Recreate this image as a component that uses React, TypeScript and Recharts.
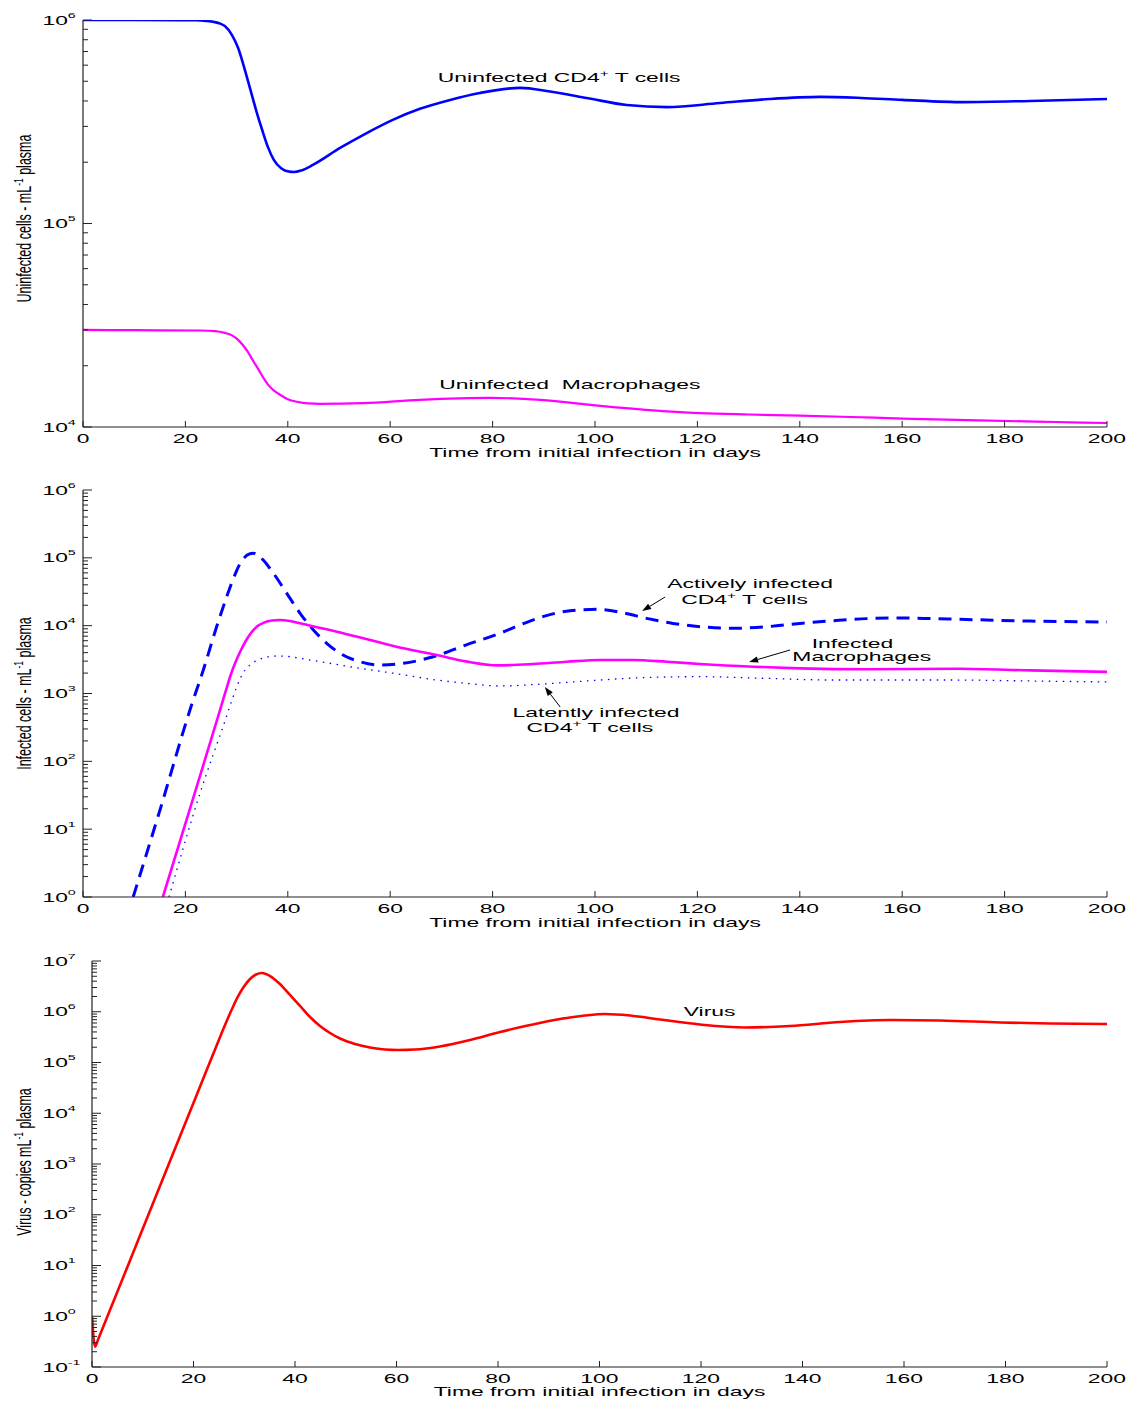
import React from 'react';
import { LineChart, Line, XAxis, YAxis, ReferenceDot, ReferenceLine } from 'recharts';

// ---------- data (t = days, v = value per mL) ----------
const dayTicks = [0, 20, 40, 60, 80, 100, 120, 140, 160, 180, 200];
const panel1Exponents = [4, 5, 6];
const panel2Exponents = [0, 1, 2, 3, 4, 5, 6];
const panel3Exponents = [-1, 0, 1, 2, 3, 4, 5, 6, 7];

const uninfectedCD4: [number, number][] = [
  [0, 1.0e6], [10, 1.0e6], [19, 9.99e5], [22, 9.97e5], [24, 9.9e5], [25.6, 9.78e5],
  [26.8, 9.6e5], [27.7, 9.34e5], [29.1, 8.43e5], [30.3, 7.28e5], [31.4, 5.94e5],
  [32.6, 4.64e5], [33.8, 3.61e5], [35.0, 2.88e5], [36.1, 2.38e5], [37.3, 2.05e5],
  [38.7, 1.87e5], [40.2, 1.8e5], [41.2, 1.79e5], [42.6, 1.82e5], [44.9, 1.94e5],
  [50.2, 2.35e5], [55.5, 2.79e5], [60.5, 3.23e5], [65.8, 3.66e5], [71.7, 4.05e5],
  [77.5, 4.38e5], [85.4, 4.64e5], [91.2, 4.45e5], [98.4, 4.14e5], [106.2, 3.82e5],
  [114.1, 3.73e5], [124.4, 3.91e5], [134, 4.09e5], [144, 4.19e5], [152, 4.14e5],
  [160, 4.05e5], [172, 3.95e5], [185, 4.0e5], [200, 4.09e5],
];

const uninfectedMacro: [number, number][] = [
  [0, 3.0e4], [10, 2.99e4], [22.9, 2.98e4], [25.8, 2.96e4], [27.7, 2.9e4], [29.1, 2.82e4],
  [30.3, 2.68e4], [31.25, 2.52e4], [32.2, 2.34e4], [33.2, 2.12e4], [34.2, 1.93e4],
  [35.2, 1.75e4], [36.1, 1.62e4], [37.3, 1.51e4], [38.5, 1.44e4], [40.0, 1.37e4],
  [41.8, 1.33e4], [43.9, 1.305e4], [46.3, 1.3e4], [54.7, 1.31e4], [65.8, 1.36e4],
  [79.5, 1.39e4], [89.3, 1.36e4], [101, 1.27e4], [110.7, 1.21e4], [120.5, 1.17e4],
  [130, 1.152e4], [140, 1.138e4], [150, 1.12e4], [160, 1.1e4], [175, 1.077e4],
  [190, 1.058e4], [200, 1.046e4],
];

const activelyInfected: [number, number][] = [
  [9.8, 1.0], [15, 18.8], [21.2, 676], [23.5, 2218], [26.1, 9660], [28.07, 26700],
  [29.04, 42600], [30.02, 65000], [30.86, 86800], [31.64, 1.03e5], [32.42, 1.13e5],
  [33.26, 1.17e5], [34.18, 1.09e5], [35.2, 9.29e4], [37.2, 5.92e4], [39.8, 3.0e4],
  [42.4, 1.52e4], [45.0, 8630], [47.6, 5500], [50.2, 3910], [54.1, 2940], [58.0, 2630],
  [62.6, 2790], [68.4, 3480], [75, 5250], [81.4, 7710], [85.3, 1.02e4], [89.8, 1.36e4],
  [95.1, 1.66e4], [100.3, 1.74e4], [105.4, 1.55e4], [110.1, 1.28e4], [115.2, 1.08e4],
  [120.5, 9660], [127, 9140], [133.6, 9660], [140, 1.08e4], [146.5, 1.18e4],
  [153.1, 1.27e4], [159.6, 1.3e4], [166, 1.27e4], [171.3, 1.24e4], [185, 1.17e4],
  [200, 1.13e4],
];

const infectedMacro: [number, number][] = [
  [15.6, 1.0], [21, 21.3], [24, 117], [26.76, 571], [27.93, 1125], [28.91, 1936],
  [29.88, 3010], [30.86, 4380], [31.84, 6040], [32.81, 7800], [33.98, 9720],
  [35.35, 1.11e4], [36.91, 1.19e4], [38.48, 1.21e4], [40.43, 1.17e4], [42.97, 1.06e4],
  [49.6, 8150], [56.1, 6150], [62.6, 4630], [69.1, 3690], [75, 2950], [81, 2600],
  [87.9, 2720], [94.5, 2940], [101, 3120], [107.4, 3120], [114, 2940], [120.5, 2720],
  [130.9, 2480], [140, 2350], [153, 2280], [171, 2320], [185, 2190], [200, 2080],
];

const latentlyInfected: [number, number][] = [
  [16.8, 1.0], [22.5, 28], [28.32, 533], [29.1, 802], [30.02, 1247], [30.86, 1750],
  [31.64, 2220], [32.62, 2630], [33.93, 3065], [35.55, 3395], [37.83, 3575],
  [40.04, 3515], [42.38, 3300], [47.6, 2840], [54.1, 2350], [60.6, 1990], [69.1, 1580],
  [75, 1410], [81.4, 1290], [89.8, 1380], [101, 1580], [110.7, 1730], [120.5, 1770],
  [133.6, 1670], [146.5, 1580], [159.6, 1580], [170, 1580], [185, 1530], [200, 1480],
];

const virus: [number, number][] = [
  [0, 1.0], [0.6, 0.25], [1.2, 0.35], [10, 53], [21.28, 3.33e4], [24.24, 1.8e5],
  [26.21, 5.48e5], [27.59, 1.13e6], [28.77, 2.0e6], [29.95, 3.14e6], [31.13, 4.42e6],
  [32.32, 5.42e6], [33.5, 5.81e6], [35.07, 5.06e6], [37.04, 3.52e6], [39.01, 2.14e6],
  [40.99, 1.3e6], [42.96, 7.88e5], [44.93, 5.24e5], [46.9, 3.81e5], [48.87, 2.97e5],
  [51.82, 2.32e5], [54.78, 1.98e5], [57.73, 1.8e5], [60.3, 1.76e5], [63.65, 1.8e5],
  [68.57, 2.07e5], [74.48, 2.77e5], [80.39, 3.99e5], [86.31, 5.48e5], [92.22, 7.2e5],
  [97.14, 8.44e5], [101.08, 9.04e5], [106.01, 8.44e5], [111.92, 7.03e5], [119.8, 5.61e5],
  [128.67, 4.9e5], [137.54, 5.24e5], [147.39, 6.28e5], [157.24, 6.87e5], [167.09, 6.73e5],
  [178.92, 6.14e5], [188.77, 5.87e5], [200, 5.74e5],
];

type Note = { t: number; v: number; pre: string; sup?: string; post?: string };
type Arrow = { from: [number, number]; to: [number, number] };

const panel1Notes: Note[] = [
  { t: 93.0, v: 4.95e5, pre: 'Uninfected CD4', sup: '+', post: ' T cells' },
  { t: 95.1, v: 1.54e4, pre: 'Uninfected  Macrophages' },
];
const panel2Notes: Note[] = [
  { t: 130.3, v: 3.59e4, pre: 'Actively infected' },
  { t: 129.2, v: 2.08e4, pre: 'CD4', sup: '+', post: ' T cells' },
  { t: 150.3, v: 4690, pre: 'Infected' },
  { t: 152.1, v: 3010, pre: 'Macrophages' },
  { t: 100.2, v: 450, pre: 'Latently infected' },
  { t: 99.0, v: 270, pre: 'CD4', sup: '+', post: ' T cells' },
];
const panel2Arrows: Arrow[] = [
  { from: [113.7, 2.65e4], to: [109.2, 1.64e4] },
  { from: [138.1, 4380], to: [130.1, 2910] },
  { from: [93.2, 632], to: [90.2, 1250] },
];
const panel3Notes: Note[] = [{ t: 121.7, v: 8.24e5, pre: 'Virus' }];

// ---------- styling helpers ----------
const FONT = '"Liberation Sans", Arial, Helvetica, sans-serif';
const SX = 1.82;
const AXIS = '#222222';
const BLUE = '#0000ff';
const MAGENTA = '#ff00ff';
const RED = '#ff0000';

const toPts = (arr: [number, number][]) => arr.map(([t, v]) => ({ t, v }));

function logTicks(exps: number[]) {
  const out: number[] = [];
  exps.forEach((e, i) => {
    out.push(Math.pow(10, e));
    if (i < exps.length - 1) for (let m = 2; m <= 9; m++) out.push(m * Math.pow(10, e));
  });
  return out;
}

const makeYTick = (labelOffset: number) => (props: any) => {
  const { x, y, payload } = props;
  const lg = Math.log10(payload.value);
  const e = Math.round(lg);
  const major = Math.abs(lg - e) < 1e-6;
  return (
    <g>
      <line x1={x} x2={x + (major ? 9 : 5)} y1={y} y2={y} stroke={AXIS} strokeWidth={1} />
      {major && (
        <text
          transform={`translate(${x - labelOffset},${y + 4.5}) scale(1.9,1)`}
          fontFamily={FONT}
          fontSize={12}
          fill="#000"
        >
          10
          <tspan dy={-7} fontSize={7.5}>{String(e)}</tspan>
        </text>
      )}
    </g>
  );
};

const XTick = (props: any) => {
  const { x, y, payload } = props;
  return (
    <g>
      <line x1={x} x2={x} y1={y} y2={y - 6} stroke={AXIS} strokeWidth={1} />
      <text
        transform={`translate(${x},${y + 16}) scale(${SX},1)`}
        textAnchor="middle"
        fontFamily={FONT}
        fontSize={12.6}
        fill="#000"
      >
        {payload.value}
      </text>
    </g>
  );
};

const xLabel = (dy: number) => ({
  content: (p: any) => {
    const vb = p.viewBox || {};
    return (
      <text
        transform={`translate(${vb.x + vb.width / 2},${vb.y + dy}) scale(${SX},1)`}
        textAnchor="middle"
        fontFamily={FONT}
        fontSize={12.6}
        fill="#000"
      >
        Time from initial infection in days
      </text>
    );
  },
});

const yLabel = (pre: string, post: string, shift: number) => ({
  content: (p: any) => {
    const vb = p.viewBox || {};
    const cy = vb.y + vb.height / 2 + shift;
    return (
      <text
        transform={`translate(${vb.x + 31},${cy}) scale(1.6,1) rotate(-90)`}
        textAnchor="middle"
        fontFamily={FONT}
        fontSize={12.5}
        fill="#000"
      >
        {pre}
        <tspan dy={-5} fontSize={8.5}>-1</tspan>
        <tspan dy={5}>{post}</tspan>
      </text>
    );
  },
});

const noteShape = (n: Note) => (p: any) => (
  <text
    transform={`translate(${p.cx},${p.cy}) scale(${SX},1)`}
    textAnchor="middle"
    fontFamily={FONT}
    fontSize={12.6}
    fill="#000"
    style={{ whiteSpace: 'pre' }}
  >
    {n.pre}
    {n.sup && <tspan dy={-5} fontSize={8.5}>{n.sup}</tspan>}
    {n.post && <tspan dy={5}>{n.post}</tspan>}
  </text>
);

const ArrowShape = (p: any) => {
  const { x1, y1, x2, y2 } = p;
  const ang = Math.atan2(y2 - y1, x2 - x1);
  const L = 9;
  const W = 3.2;
  const bx = x2 - L * Math.cos(ang);
  const by = y2 - L * Math.sin(ang);
  const px = -Math.sin(ang) * W;
  const py = Math.cos(ang) * W;
  return (
    <g>
      <line x1={x1} y1={y1} x2={bx} y2={by} stroke="#000" strokeWidth={1} />
      <polygon points={`${x2},${y2} ${bx + px},${by + py} ${bx - px},${by - py}`} fill="#000" />
    </g>
  );
};

const renderNotes = (notes: Note[]) =>
  notes.map((n, i) => (
    <ReferenceDot key={`n${i}`} x={n.t} y={n.v} r={0} ifOverflow="visible" shape={noteShape(n)} />
  ));

const renderArrows = (arrows: Arrow[]) =>
  arrows.map((a, i) => (
    <ReferenceLine
      key={`a${i}`}
      ifOverflow="visible"
      segment={[{ x: a.from[0], y: a.from[1] }, { x: a.to[0], y: a.to[1] }]}
      shape={ArrowShape}
    />
  ));

const axisLine = { stroke: AXIS, strokeWidth: 1.2 };

const commonX = (height: number, labelDy: number) => (
  <XAxis
    type="number"
    dataKey="t"
    domain={[0, 200]}
    ticks={dayTicks}
    interval={0}
    allowDataOverflow
    tick={XTick}
    tickLine={false}
    tickSize={0}
    tickMargin={0}
    height={height}
    axisLine={axisLine}
    label={xLabel(labelDy)}
  />
);

export default function App() {
  return (
    <div style={{ position: 'absolute', left: 0, top: 0, width: 1136, height: 1401, background: '#fff' }}>
      <div style={{ position: 'absolute', left: 0, top: 0 }}>
        <LineChart width={1136} height={470} margin={{ top: 20, right: 29, bottom: 0, left: 0 }}>
          {commonX(43, 30)}
          <YAxis
            type="number"
            dataKey="v"
            scale="log"
            domain={[1e4, 1e6]}
            ticks={logTicks(panel1Exponents)}
            interval={0}
            allowDataOverflow
            tick={makeYTick(40.5)}
            tickLine={false}
            tickSize={0}
            tickMargin={0}
            width={83}
            axisLine={axisLine}
            label={yLabel('Uninfected cells - mL', ' plasma', -5)}
          />
          <Line data={toPts(uninfectedCD4)} dataKey="v" type="monotone" stroke={BLUE} strokeWidth={2.6} dot={false} activeDot={false} isAnimationActive={false} />
          <Line data={toPts(uninfectedMacro)} dataKey="v" type="monotone" stroke={MAGENTA} strokeWidth={2.2} dot={false} activeDot={false} isAnimationActive={false} />
          {renderNotes(panel1Notes)}
        </LineChart>
      </div>

      <div style={{ position: 'absolute', left: 0, top: 470 }}>
        <LineChart width={1136} height={470} margin={{ top: 20, right: 29, bottom: 0, left: 0 }}>
          {commonX(43, 30)}
          <YAxis
            type="number"
            dataKey="v"
            scale="log"
            domain={[1, 1e6]}
            ticks={logTicks(panel2Exponents)}
            interval={0}
            allowDataOverflow
            tick={makeYTick(40.5)}
            tickLine={false}
            tickSize={0}
            tickMargin={0}
            width={83}
            axisLine={axisLine}
            label={yLabel('Infected cells - mL', ' plasma', 0)}
          />
          <Line data={toPts(activelyInfected)} dataKey="v" type="monotone" stroke={BLUE} strokeWidth={3} strokeDasharray="13 8" dot={false} activeDot={false} isAnimationActive={false} />
          <Line data={toPts(infectedMacro)} dataKey="v" type="monotone" stroke={MAGENTA} strokeWidth={2.6} dot={false} activeDot={false} isAnimationActive={false} />
          <Line data={toPts(latentlyInfected)} dataKey="v" type="monotone" stroke={BLUE} strokeWidth={1.3} strokeDasharray="1.5 5.5" dot={false} activeDot={false} isAnimationActive={false} />
          {renderArrows(panel2Arrows)}
          {renderNotes(panel2Notes)}
        </LineChart>
      </div>

      <div style={{ position: 'absolute', left: 0, top: 940 }}>
        <LineChart width={1136} height={461} margin={{ top: 21, right: 29, bottom: 0, left: 0 }}>
          {commonX(34, 29)}
          <YAxis
            type="number"
            dataKey="v"
            scale="log"
            domain={[0.1, 1e7]}
            ticks={logTicks(panel3Exponents)}
            interval={0}
            allowDataOverflow
            tick={makeYTick(49.5)}
            tickLine={false}
            tickSize={0}
            tickMargin={0}
            width={92}
            axisLine={axisLine}
            label={yLabel('Virus - copies mL', ' plasma', -2)}
          />
          <Line data={toPts(virus)} dataKey="v" type="monotone" stroke={RED} strokeWidth={2.6} dot={false} activeDot={false} isAnimationActive={false} />
          {renderNotes(panel3Notes)}
        </LineChart>
      </div>
    </div>
  );
}
